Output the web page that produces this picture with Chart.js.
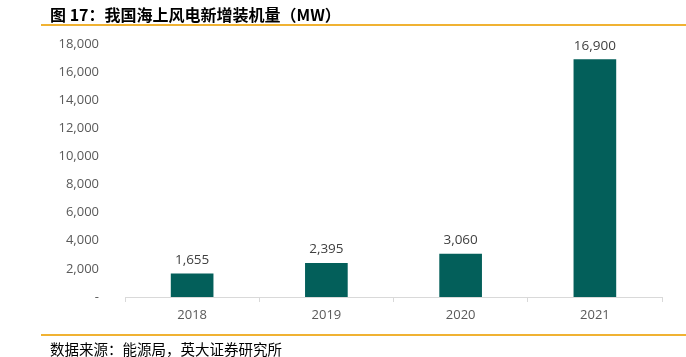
<!DOCTYPE html>
<html>
<head>
<meta charset="utf-8">
<script src="https://cdn.jsdelivr.net/npm/chart.js@4"></script>
<style>
  html, body { margin: 0; padding: 0; background: #ffffff; }
  #wrap { position: relative; width: 686px; height: 357px; overflow: hidden; }
  #chart { position: absolute; left: 0; top: 0; }
  .title { position: absolute; left: 50px; top: 4px; font: bold 16px "Noto Sans CJK SC", sans-serif; color: #000; white-space: nowrap; line-height: 20px; }
  .rule { position: absolute; left: 41px; right: 0; height: 2px; background: #f0b232; }
  .source { position: absolute; left: 50px; top: 339px; font: 14.5px "Noto Sans CJK SC", sans-serif; color: #000; white-space: nowrap; line-height: 20px; }
</style>
</head>
<body>
<div id="wrap">
  <canvas id="chart" width="686" height="357"></canvas>
  <div class="title">图 17：我国海上风电新增装机量（MW）</div>
  <div class="rule" style="top:24px"></div>
  <div class="rule" style="top:334px"></div>
  <div class="source">数据来源：能源局，英大证券研究所</div>
</div>
<script>
const categories = ["2018", "2019", "2020", "2021"];
const installed = [1655, 2395, 3060, 16900];
const yTicks = [0, 2000, 4000, 6000, 8000, 10000, 12000, 14000, 16000, 18000];

const fmt = v => v === 0 ? "-" : v.toLocaleString("en-US");

const barLabels = {
  id: "barLabels",
  afterDatasetsDraw(chart) {
    const ctx = chart.ctx;
    const meta = chart.getDatasetMeta(0);
    ctx.save();
    ctx.font = '13.5px "Open Sans", sans-serif';
    ctx.fillStyle = "#404040";
    ctx.textAlign = "center";
    ctx.textBaseline = "bottom";
    meta.data.forEach((el, i) => {
      ctx.fillText(fmt(installed[i]), el.x, el.y - 7);
    });
    ctx.restore();
  }
};

new Chart(document.getElementById("chart"), {
  type: "bar",
  data: {
    labels: categories,
    datasets: [{
      data: installed,
      backgroundColor: "#035f5a",
      barThickness: 42
    }]
  },
  options: {
    responsive: false,
    animation: false,
    layout: { padding: { top: 44, right: 24, bottom: 30, left: 0 } },
    plugins: { legend: { display: false }, tooltip: { enabled: false }, title: { display: false } },
    scales: {
      y: {
        min: 0, max: 18000,
        afterBuildTicks(scale) { scale.ticks = yTicks.map(v => ({ value: v })); },
        afterFit(scale) { scale.width = 125; },
        grid: { display: false },
        border: { display: false },
        ticks: {
          padding: 18,
          color: "#595959",
          font: { family: "Open Sans", size: 13 },
          callback: v => fmt(v)
        }
      },
      x: {
        afterFit(scale) { scale.height = 30; },
        grid: { drawOnChartArea: false, drawTicks: true, tickLength: 5, color: "#d9d9d9" },
        border: { display: true, color: "#d9d9d9" },
        ticks: {
          padding: 5,
          color: "#595959",
          font: { family: "Open Sans", size: 13 }
        }
      }
    }
  },
  plugins: [barLabels]
});
</script>
</body>
</html>
